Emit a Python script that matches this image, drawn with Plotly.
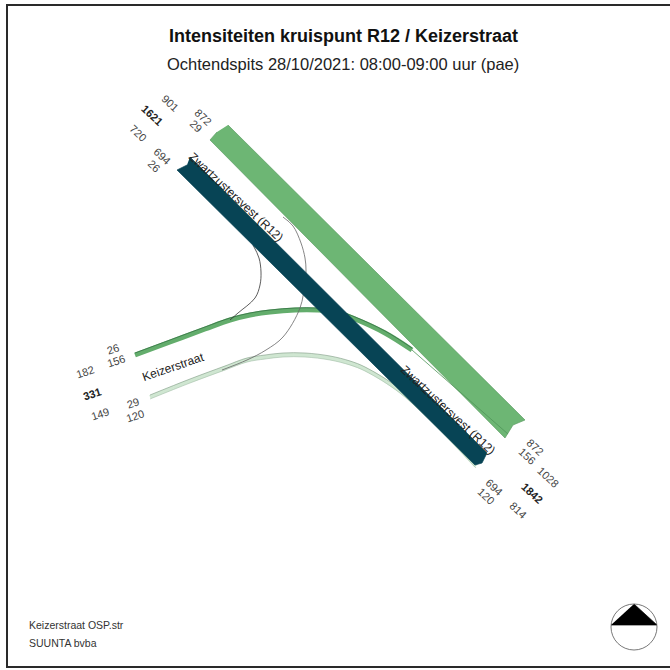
import plotly.graph_objects as go

FONT = "Liberation Sans, Arial, sans-serif"

# Traffic counts printed around the junction
count_values = ["901", "1621", "720", "872", "29", "694", "26",
                "26", "156", "182", "331", "149", "29", "120",
                "872", "156", "1028", "1842", "814", "694", "120"]
count_bold = [False, True, False, False, False, False, False,
              False, False, False, True, False, False, False,
              False, False, False, True, False, False, False]
count_x = [170, 152, 138, 203, 196, 162, 154,
           113, 116, 85, 92, 100, 133, 135,
           535, 527, 548, 532, 518, 494, 486]
count_y = [103, 115, 133, 117, 126, 156, 166,
           349, 361, 372, 394, 414, 403, 416,
           447, 456, 477, 493, 510, 487, 496]
count_angle = [43, 43, 43, 43, 43, 43, 43,
               -18, -18, -18, -18, -18, -18, -18,
               43, 43, 43, 43, 43, 43, 43]

# Road names
road_names = ["Zwartzustersvest (R12)", "Zwartzustersvest (R12)", "Keizerstraat"]
road_x = [236, 448, 173]
road_y = [197, 410, 367]
road_angle = [43, 43, -19]

# Main carriageway bands
north_band_x = [228, 525, 513, 505, 210, 217]
north_band_y = [125, 420, 425, 438, 140, 132]
north_edge_x = [412, 508]
north_edge_y = [350, 434]
south_band_x = [190, 487, 482, 475, 177, 187]
south_band_y = [157, 453, 463, 465, 170, 165]

# Turning movements
left_in_x = [135, 170, 205, 230, 250, 270, 295, 317, 335, 355, 385, 412]
left_in_y = [355, 342, 329, 320, 315, 312, 310, 310, 312, 319, 333, 350]
left_in_edge_y = [353, 340, 327, 318, 313, 310, 308, 308, 310, 317, 331, 348]
right_out_x = [150, 190, 225, 247, 265, 283, 305, 330, 350, 365, 400, 440, 476]
right_out_y = [397, 381, 368, 360, 357, 355, 355, 358, 363, 369, 391, 428, 466]
right_out_upper_y = [395, 379, 366, 358, 355, 353, 353, 356, 361, 367, 389, 426, 464]
right_out_lower_y = [399, 383, 370, 362, 359, 357, 357, 360, 365, 371, 393, 430, 468]

# Thin turn connectors
arc_a_x = [253, 259, 261, 260, 255, 238, 230]
arc_a_y = [245, 258, 272, 285, 298, 313, 320]
arc_b_x = [283, 293, 301, 305, 306, 305, 300, 283, 266, 247, 222]
arc_b_y = [217, 226, 243, 258, 270, 282, 308, 337, 350, 360, 370]

# Frame (left, top, bottom sides)
frame_x = [670, 7, 7, 670]
frame_y = [5, 5, 667, 667]

# Compass
north_x = [634, 657, 611]
north_y = [604, 625, 625]

fig = go.Figure()

def band(x, y, color, edge):
    fig.add_trace(go.Scatter(x=x, y=y, mode="lines", fill="toself", fillcolor=color,
                             line=dict(color=edge, width=0.7), hoverinfo="skip"))

def stroke(x, y, color, width, smooth=True):
    fig.add_trace(go.Scatter(x=x, y=y, mode="lines", hoverinfo="skip",
                             line=dict(color=color, width=width,
                                       shape="spline" if smooth else "linear")))

stroke(frame_x, frame_y, "#2A2A2A", 2, False)
stroke(right_out_x, right_out_y, "#CFE6D1", 4)
stroke(right_out_x, right_out_upper_y, "#7F9A85", 0.6)
stroke(right_out_x, right_out_lower_y, "#A5BFA9", 0.6)
stroke(left_in_x, left_in_y, "#63AD6C", 5)
stroke(left_in_x, left_in_edge_y, "#2F6B3F", 0.7)
stroke(arc_a_x, arc_a_y, "#333333", 0.8)
stroke(arc_b_x, arc_b_y, "#666666", 0.8)
band(north_band_x, north_band_y, "#6DB674", "#5E9D66")
stroke(north_edge_x, north_edge_y, "#4F9458", 0.8, False)
band(south_band_x, south_band_y, "#074455", "#074455")
band(north_x, north_y, "#000000", "#000000")

annotations = []
def label(text, x, y, angle, size, bold=False, color="#333333", anchor="center"):
    annotations.append(dict(text=f"<b>{text}</b>" if bold else text, x=x, y=y, xref="x", yref="y",
                            showarrow=False, textangle=angle, xanchor=anchor, yanchor="middle",
                            font=dict(family=FONT, size=size, color=color)))

for v, b, x, y, a in zip(count_values, count_bold, count_x, count_y, count_angle):
    label(v, x, y, a, 11, b, "#222222" if b else "#444444")
for t, x, y, a in zip(road_names, road_x, road_y, road_angle):
    label(t, x, y, a, 12, False, "#222222")

label("Intensiteiten kruispunt R12 / Keizerstraat", 343, 36, 0, 18, True, "#111111")
label("Ochtendspits 28/10/2021: 08:00-09:00 uur (pae)", 343, 64, 0, 16.5, False, "#222222")
label("Keizerstraat OSP.str", 27, 625, 0, 10.5, False, "#333333", "left")
label("SUUNTA bvba", 27, 643, 0, 10.5, False, "#333333", "left")

shapes = [
    dict(type="circle", x0=611, y0=604, x1=657, y1=650, xref="x", yref="y",
         line=dict(color="#555555", width=0.8), fillcolor="rgba(0,0,0,0)"),
]

fig.update_layout(
    width=670, height=670, margin=dict(l=0, r=0, t=0, b=0),
    paper_bgcolor="white", plot_bgcolor="white", showlegend=False,
    xaxis=dict(range=[0, 670], visible=False, fixedrange=True),
    yaxis=dict(range=[670, 0], visible=False, fixedrange=True),
    annotations=annotations, shapes=shapes,
)
fig.write_html("out.html", config=dict(displayModeBar=False),
               post_script="document.body.style.margin='0';document.body.style.overflow='hidden';")
